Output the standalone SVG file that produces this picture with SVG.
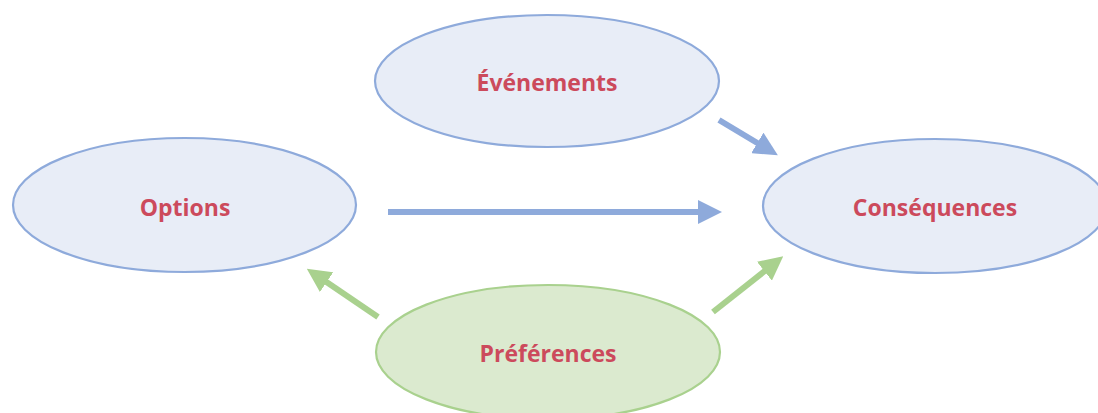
<svg xmlns="http://www.w3.org/2000/svg" width="1098" height="413" viewBox="0 0 1098 413">
<style>
.blue{fill:#e8edf7;stroke:#8eaadb;stroke-width:2.2}
.green{fill:#dbeacf;stroke:#a9d18e;stroke-width:2.2}
.lbl{font-family:"Open Sans","Noto Sans",sans-serif;font-weight:bold;font-size:23px;fill:#cc4a5c;text-anchor:middle;dominant-baseline:central}
.cb{stroke:#8eaadb;stroke-width:6;fill:none}
.cg{stroke:#a9d18e;stroke-width:6;fill:none}
</style>
<defs>
<marker id="ab" markerUnits="userSpaceOnUse" viewBox="0 0 24 24" refX="2" refY="12" markerWidth="24" markerHeight="24" orient="auto"><path d="M0,0 L24,12 L0,24 Z" fill="#8eaadb"/></marker>
<marker id="ag" markerUnits="userSpaceOnUse" viewBox="0 0 24 24" refX="2" refY="12" markerWidth="24" markerHeight="24" orient="auto"><path d="M0,0 L24,12 L0,24 Z" fill="#a9d18e"/></marker>
</defs>
<g id="connectors">
<line class="cb" x1="388" y1="212" x2="700" y2="212" marker-end="url(#ab)"/>
<line class="cb" x1="719" y1="120" x2="759" y2="144" marker-end="url(#ab)"/>
<line class="cg" x1="378" y1="317" x2="325" y2="281" marker-end="url(#ag)"/>
<line class="cg" x1="713" y1="312" x2="766" y2="270" marker-end="url(#ag)"/>
</g>
<g id="evenements"><ellipse class="blue" cx="547" cy="81" rx="172" ry="66"/><text class="lbl" x="547" y="82">Événements</text></g>
<g id="options"><ellipse class="blue" cx="184.5" cy="205" rx="171.5" ry="67"/><text class="lbl" x="185" y="207">Options</text></g>
<g id="consequences"><ellipse class="blue" cx="935" cy="206" rx="172" ry="67"/><text class="lbl" x="935" y="207">Conséquences</text></g>
<g id="preferences"><ellipse class="green" cx="548" cy="352" rx="172" ry="67"/><text class="lbl" x="548" y="353">Préférences</text></g>
</svg>
